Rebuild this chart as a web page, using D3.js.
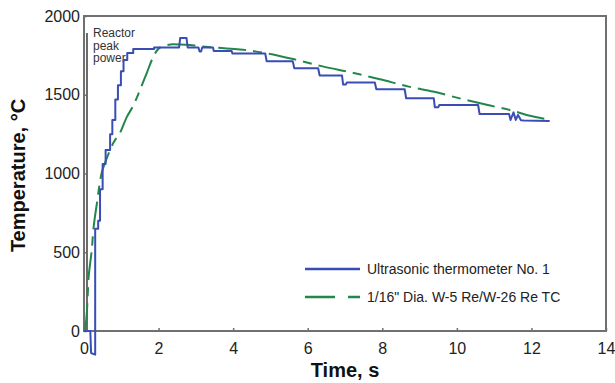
<!DOCTYPE html>
<html>
<head>
<meta charset="utf-8">
<script src="https://cdn.jsdelivr.net/npm/d3@7"></script>
<style>
  html, body { margin: 0; padding: 0; background: #fff; }
  svg { display: block; font-family: "Liberation Sans", Arial, sans-serif; }
</style>
</head>
<body>
<svg id="chart" width="615" height="383"></svg>
<script>
// tick values
const xTicks = [0, 2, 4, 6, 8, 10, 12, 14];
const yTicks = [0, 500, 1000, 1500, 2000];

// ultrasonic thermometer No. 1 (stepped trace), [time s, temperature C]
const ultrasonic = [
  [0, 0], [0.17, 0], [0.19, -140], [0.30, -150], [0.30, 650], [0.38, 650],
  [0.38, 700], [0.43, 700], [0.43, 900], [0.50, 900], [0.50, 1060], [0.58, 1060],
  [0.58, 1150], [0.70, 1150], [0.70, 1250], [0.76, 1250], [0.76, 1340], [0.84, 1340],
  [0.84, 1470], [0.91, 1470], [0.91, 1560], [0.99, 1560], [0.99, 1650], [1.06, 1650],
  [1.06, 1720], [1.16, 1720], [1.16, 1765], [1.32, 1765], [1.32, 1790], [1.88, 1790],
  [1.88, 1800], [2.55, 1800], [2.58, 1860], [2.75, 1860], [2.78, 1800], [3.07, 1800],
  [3.10, 1775], [3.14, 1775], [3.17, 1800], [3.46, 1800], [3.48, 1778], [3.96, 1778],
  [3.98, 1762], [4.86, 1762], [4.90, 1712], [5.60, 1712], [5.64, 1668], [6.28, 1668],
  [6.32, 1622], [6.92, 1622], [6.95, 1565], [7.02, 1565], [7.05, 1578], [7.80, 1578],
  [7.84, 1535], [8.60, 1535], [8.64, 1478], [9.38, 1478], [9.41, 1420], [9.50, 1420],
  [9.53, 1435], [10.57, 1435], [10.61, 1378], [11.40, 1378], [11.44, 1340], [11.52, 1388],
  [11.58, 1340], [11.64, 1372], [11.72, 1338], [11.80, 1336], [12.49, 1333]
];

// 1/16" W-5 Re/W-26 Re thermocouple, [time s, temperature C]
const thermocouple = [
  [0.02, 0], [0.08, 130], [0.12, 330], [0.16, 420], [0.21, 520], [0.25, 640],
  [0.29, 720], [0.34, 800], [0.38, 870], [0.47, 1000], [0.56, 1065], [0.70, 1150],
  [0.80, 1200], [0.97, 1260], [1.14, 1355], [1.32, 1430], [1.50, 1530], [1.68, 1636],
  [1.86, 1742], [2.04, 1800], [2.39, 1820], [2.75, 1818], [3.11, 1808], [3.6, 1798],
  [4.18, 1788], [4.9, 1763], [5.7, 1721], [6.4, 1680], [7.2, 1640], [7.94, 1598],
  [8.74, 1550], [9.36, 1520], [10.16, 1472], [10.8, 1436], [11.5, 1398], [11.87, 1372],
  [12.49, 1342]
];

const reactorPeakTime = 0.08;
const reactorLabel = ["Reactor", "peak", "power"];
const legendLabels = ["Ultrasonic thermometer No. 1", "1/16\" Dia. W-5 Re/W-26 Re TC"];

const blue = "#3a4db5";
const green = "#23874b";
const frame = "#707070";

const svg = d3.select("#chart");
const plotLeft = 84, plotRight = 606, plotTop = 16, plotBottom = 331;

const x = d3.scaleLinear().domain([0, 14]).range([plotLeft, plotRight]);
const y = d3.scaleLinear().domain([0, 2000]).range([plotBottom, plotTop]);

// axes with inward ticks
const xAxis = svg.append("g")
  .attr("transform", `translate(0,${plotBottom})`)
  .call(d3.axisBottom(x).tickValues(xTicks).tickSizeInner(-3).tickSizeOuter(0).tickPadding(12).tickFormat(d3.format("d")));

const yAxis = svg.append("g")
  .attr("transform", `translate(${plotLeft},0)`)
  .call(d3.axisLeft(y).tickValues(yTicks).tickSizeInner(-3).tickSizeOuter(0).tickPadding(4).tickFormat(d3.format("d")));

[xAxis, yAxis].forEach(g => {
  g.select(".domain").remove();
  g.selectAll(".tick line").attr("stroke", frame).attr("stroke-width", 1.5);
  g.selectAll(".tick text")
    .attr("fill", "#222")
    .style("font-size", "16px")
    .style("font-family", "'Liberation Sans', Arial, sans-serif");
});

// plot frame
svg.append("rect")
  .attr("x", plotLeft).attr("y", plotTop)
  .attr("width", plotRight - plotLeft).attr("height", plotBottom - plotTop)
  .attr("fill", "none")
  .attr("stroke", frame)
  .attr("stroke-width", 2);

// reactor peak power marker
svg.append("line")
  .attr("x1", x(reactorPeakTime)).attr("x2", x(reactorPeakTime))
  .attr("y1", 33).attr("y2", plotBottom)
  .attr("stroke", "#6b6b6b")
  .attr("stroke-width", 2);

svg.append("g")
  .selectAll("text")
  .data(reactorLabel)
  .join("text")
  .attr("x", x(reactorPeakTime) + 6)
  .attr("y", (d, i) => 37 + i * 12.5)
  .attr("fill", "#333")
  .style("font-size", "12px")
  .text(d => d);

const line = d3.line()
  .x(d => x(d[0]))
  .y(d => y(d[1]));

const smooth = d3.line()
  .x(d => x(d[0]))
  .y(d => y(d[1]))
  .curve(d3.curveMonotoneX);

svg.append("path")
  .datum(thermocouple)
  .attr("d", smooth)
  .attr("fill", "none")
  .attr("stroke", green)
  .attr("stroke-width", 2)
  .attr("stroke-dasharray", "28,7,9,7");

svg.append("path")
  .datum(ultrasonic)
  .attr("d", line)
  .attr("fill", "none")
  .attr("stroke", blue)
  .attr("stroke-width", 2)
  .attr("stroke-linejoin", "round");

// legend
const legend = svg.append("g");
const legendRows = [
  { label: legendLabels[0], color: blue, dash: null, y: 269 },
  { label: legendLabels[1], color: green, dash: "30,13,12", y: 297 }
];

legend.selectAll("line")
  .data(legendRows)
  .join("line")
  .attr("x1", 305).attr("x2", 360)
  .attr("y1", d => d.y).attr("y2", d => d.y)
  .attr("stroke", d => d.color)
  .attr("stroke-width", 2.5)
  .attr("stroke-dasharray", d => d.dash);

legend.selectAll("text")
  .data(legendRows)
  .join("text")
  .attr("x", 367)
  .attr("y", d => d.y + 5)
  .attr("fill", "#222")
  .style("font-size", "14px")
  .text(d => d.label);

// axis titles
svg.append("text")
  .attr("x", (plotLeft + plotRight) / 2)
  .attr("y", 377)
  .attr("text-anchor", "middle")
  .attr("fill", "#111")
  .style("font-size", "20px")
  .style("font-weight", "bold")
  .text("Time, s");

svg.append("text")
  .attr("transform", `translate(25,${(plotTop + plotBottom) / 2 + 2}) rotate(-90)`)
  .attr("text-anchor", "middle")
  .attr("fill", "#111")
  .style("font-size", "20px")
  .style("font-weight", "bold")
  .text("Temperature, °C");
</script>
</body>
</html>
